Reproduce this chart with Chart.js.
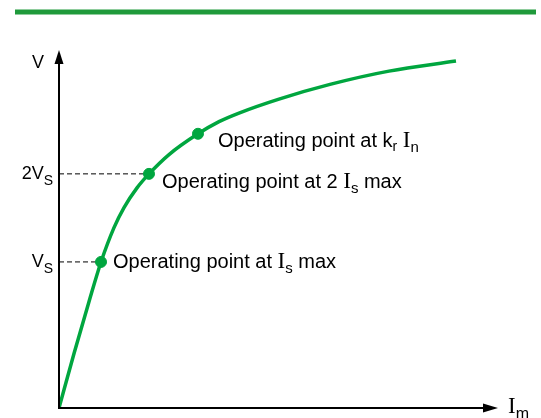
<!DOCTYPE html>
<html>
<head>
<meta charset="utf-8">
<title>Magnetizing curve</title>
<script src="https://cdn.jsdelivr.net/npm/chart.js@4.4.1/dist/chart.umd.min.js"></script>
<style>
  html, body { margin: 0; padding: 0; background: #fff; }
  #wrap { width: 541px; height: 418px; }
</style>
</head>
<body>
<div id="wrap"><canvas id="cv" width="541" height="418"></canvas></div>
<script>
// Magnetizing curve V = f(Im), arbitrary units 0..100
const curveX = [0, 3.42, 6.83, 9.57, 12.53, 14.81, 17.77, 20.50, 25.06, 31.66, 36.45, 41.00, 50.11, 61.73, 75.17, 90.43];
const curveY = [0, 15.2, 29.7, 40.8, 50.4, 56.0, 61.5, 65.4, 70.8, 76.6, 80.0, 82.4, 86.3, 90.4, 94.1, 96.9];

// Operating points (Is max, 2 Is max, kr In)
const opX = [9.57, 20.50, 31.66];
const opY = [40.8, 65.4, 76.6];

// Voltage reference ticks (Vs, 2Vs) -> index into op points
const refIdx = [0, 1];
const refLabels = [['', 'V', 'S'], ['2', 'V', 'S']];

const GREEN = '#00a63f';
const BAR   = '#1f9a3b';
const SANS  = '"Liberation Sans", Arial, sans-serif';
const SERIF = '"Liberation Serif", "Times New Roman", serif';

// annotation texts as runs: [text, font, dy]
const opText = [
  [['Operating point at ', '20px ' + SANS, 0], ['I', '23px ' + SERIF, 0], ['s', '15px ' + SANS, 5], [' max', '20px ' + SANS, 0]],
  [['Operating point at 2 ', '20px ' + SANS, 0], ['I', '23px ' + SERIF, 0], ['s', '15px ' + SANS, 5], [' max', '20px ' + SANS, 0]],
  [['Operating point at k', '20px ' + SANS, 0], ['r', '14px ' + SANS, 4], [' ', '20px ' + SANS, 0], ['I', '23px ' + SERIF, 0], ['n', '15px ' + SANS, 5]]
];
// label offsets from the point (dx, baseline dy)
const opOff = [[12, 6], [13, 14], [20, 13]];

function drawRuns(ctx, runs, x, y) {
  runs.forEach(r => {
    ctx.font = r[1];
    ctx.fillText(r[0], x, y + r[2]);
    x += ctx.measureText(r[0]).width;
  });
}

const dashSets = refIdx.map(i => ({
  type: 'line',
  data: [{ x: 0, y: opY[i] }, { x: opX[i], y: opY[i] }],
  borderColor: '#000',
  borderWidth: 1,
  borderDash: [5, 3],
  pointRadius: 0,
  order: 3
}));

const decor = {
  id: 'decor',
  beforeDatasetsDraw(chart) {
    const ctx = chart.ctx;
    ctx.save();
    ctx.fillStyle = BAR;
    ctx.fillRect(15, 9.5, 521, 5);
    ctx.restore();
  },
  afterDatasetsDraw(chart) {
    const { ctx, chartArea: a, scales: { x, y } } = chart;
    const x0 = x.getPixelForValue(0), y0 = y.getPixelForValue(0);
    ctx.save();
    ctx.strokeStyle = '#000';
    ctx.fillStyle = '#000';
    ctx.lineWidth = 2;
    // y axis
    ctx.beginPath();
    ctx.moveTo(x0, y0 + 1);
    ctx.lineTo(x0, a.top + 12);
    ctx.stroke();
    ctx.beginPath();
    ctx.moveTo(x0, a.top);
    ctx.lineTo(x0 - 4.5, a.top + 14);
    ctx.lineTo(x0 + 4.5, a.top + 14);
    ctx.closePath();
    ctx.fill();
    // x axis
    ctx.beginPath();
    ctx.moveTo(x0 - 1, y0);
    ctx.lineTo(a.right - 12, y0);
    ctx.stroke();
    ctx.beginPath();
    ctx.moveTo(a.right, y0);
    ctx.lineTo(a.right - 15, y0 - 4.5);
    ctx.lineTo(a.right - 15, y0 + 4.5);
    ctx.closePath();
    ctx.fill();

    // axis titles
    ctx.textBaseline = 'alphabetic';
    ctx.textAlign = 'left';
    ctx.font = '18px ' + SANS;
    ctx.fillText('V', 32, 68);
    drawRuns(ctx, [['I', '23px ' + SERIF, 0], ['m', '16px ' + SANS, 6]], 508, 413);

    // Vs / 2Vs tick labels (right aligned to the axis)
    refIdx.forEach((i, k) => {
      const py = y.getPixelForValue(opY[i]);
      const lab = refLabels[k];
      const runs = [[lab[0] + lab[1], '18px ' + SANS, 0], [lab[2], '14px ' + SANS, 6]];
      let w = 0;
      runs.forEach(r => { ctx.font = r[1]; w += ctx.measureText(r[0]).width; });
      drawRuns(ctx, runs, x0 - 6 - w, py + 5);
    });

    // operating point annotations
    opText.forEach((runs, i) => {
      const px = x.getPixelForValue(opX[i]);
      const py = y.getPixelForValue(opY[i]);
      drawRuns(ctx, runs, px + opOff[i][0], py + opOff[i][1]);
    });
    ctx.restore();
  }
};

new Chart(document.getElementById('cv'), {
  type: 'scatter',
  data: {
    datasets: [
      {
        type: 'line',
        data: curveX.map((v, i) => ({ x: v, y: curveY[i] })),
        borderColor: GREEN,
        borderWidth: 3.5,
        pointRadius: 0,
        cubicInterpolationMode: 'monotone',
        order: 2
      },
      {
        type: 'scatter',
        data: opX.map((v, i) => ({ x: v, y: opY[i] })),
        backgroundColor: GREEN,
        borderColor: GREEN,
        pointRadius: 5.5,
        order: 1
      },
      ...dashSets
    ]
  },
  options: {
    responsive: false,
    animation: false,
    layout: { padding: { left: 59, top: 50, right: 43, bottom: 10 } },
    scales: {
      x: { type: 'linear', min: 0, max: 100, display: false },
      y: { type: 'linear', min: 0, max: 100, display: false }
    },
    plugins: { legend: { display: false }, tooltip: { enabled: false } }
  },
  plugins: [decor]
});
</script>
</body>
</html>
